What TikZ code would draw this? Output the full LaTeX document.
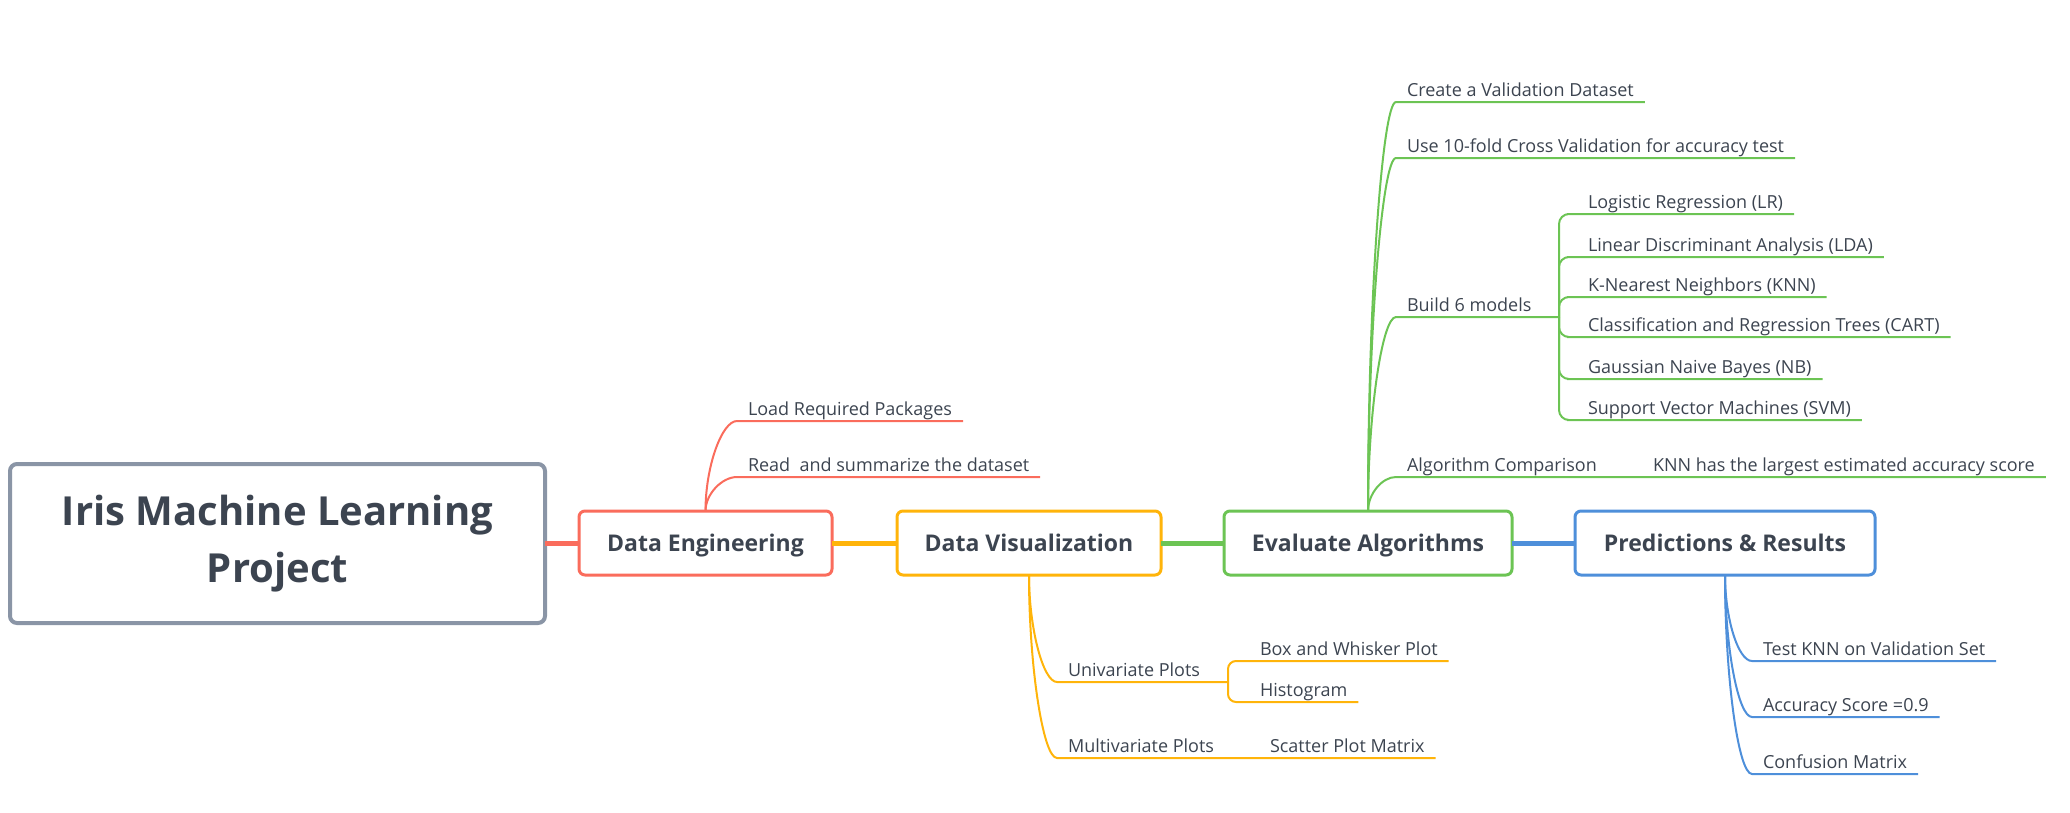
\documentclass[tikz,border=0pt]{standalone}
\usepackage{fontspec}
\setmainfont{Open Sans}
\usepackage{tikz}
\usepackage{xcolor}
\definecolor{engred}{RGB}{250,108,92}
\definecolor{visorange}{RGB}{255,180,10}
\definecolor{evalgreen}{RGB}{108,196,84}
\definecolor{predblue}{RGB}{78,143,218}
\definecolor{rootgray}{RGB}{138,149,166}
\definecolor{inkgray}{RGB}{60,68,80}

\begin{document}
\begin{tikzpicture}[x=1pt,y=-1pt,
  topic/.style={rectangle,rounded corners=6pt,draw=#1,line width=3pt,fill=white,text=inkgray,
                minimum height=64pt,text height=16.4pt,text depth=0pt,outer sep=0pt,
                font=\fontsize{23}{28}\selectfont\bfseries},
  leaf/.style={anchor=south west,inner xsep=11pt,inner ysep=2pt,text height=13pt,text depth=4pt,
               outer sep=0pt,text=inkgray,font=\fontsize{18}{22}\selectfont},
  link/.style={draw=#1,line width=5pt},
  branch/.style={draw=#1,line width=2pt}
]
\useasboundingbox (0,0) rectangle (2070,812);

% main line
\node[draw=rootgray,line width=4pt,rounded corners=7pt,fill=white,text=inkgray,align=center,
      minimum width=535pt,minimum height=159pt,outer sep=0pt,
      font=\fontsize{40}{57}\selectfont\bfseries] (root) at (277.5,543.5) {Iris Machine Learning\\Project};
\node[topic=engred,minimum width=253pt] (eng) at (705.5,543) {Data Engineering};
\node[topic=visorange,minimum width=264pt] (vis) at (1029,543) {Data Visualization};
\node[topic=evalgreen,minimum width=288pt] (eval) at (1368,543) {Evaluate Algorithms};
\node[topic=predblue,minimum width=300pt] (pred) at (1725,543) {Predictions \& Results};
\draw[link=engred] (root.east |- eng.west) -- (eng);
\draw[link=visorange] (eng) -- (vis);
\draw[link=evalgreen] (vis) -- (eval);
\draw[link=predblue] (eval) -- (pred);

% data engineering
\node[leaf] (load) at (737,421) {Load Required Packages};
\node[leaf] (read) at (737,477) {Read~ and summarize the dataset};
\draw[branch=engred] (eng.north) .. controls +(0,-45) and +(-15,0) .. (load.south west) -- (load.south east);
\draw[branch=engred] (eng.north) .. controls +(0,-17) and +(-15,0) .. (read.south west) -- (read.south east);

% data visualization
\node[leaf] (univ) at (1057,682) {Univariate Plots};
\node[leaf] (multi) at (1057,758) {Multivariate Plots};
\node[leaf] (boxw) at (1249,661) {Box and Whisker Plot};
\node[leaf] (hist) at (1249,702) {Histogram};
\node[leaf] (scat) at (1259,758) {Scatter Plot Matrix};
\coordinate (ufork) at (1228,682);
\draw[branch=visorange] (vis.south) .. controls +(0,53) and +(-14,0) .. (univ.south west) -- (ufork);
\draw[branch=visorange] (vis.south) .. controls +(0,91) and +(-14,0) .. (multi.south west) -- (scat.south west) -- (scat.south east);
\draw[branch=visorange,rounded corners=8pt] (ufork) |- (boxw.south west) -- (boxw.south east);
\draw[branch=visorange,rounded corners=8pt] (ufork) |- (hist.south west) -- (hist.south east);

% evaluate algorithms
\node[leaf] (valid) at (1396,102) {Create a Validation Dataset};
\node[leaf] (cross) at (1396,158) {Use 10-fold Cross Validation for accuracy test};
\node[leaf] (build) at (1396,317) {Build 6 models};
\node[leaf] (comp) at (1396,477) {Algorithm Comparison};
\node[leaf] (best) at (1642,477) {KNN has the largest estimated accuracy score};
\coordinate (mfork) at (1559,317);
\draw[branch=evalgreen] (eval.north) .. controls +(0,-205) and +(-14,0) .. (valid.south west) -- (valid.south east);
\draw[branch=evalgreen] (eval.north) .. controls +(0,-176) and +(-14,0) .. (cross.south west) -- (cross.south east);
\draw[branch=evalgreen] (eval.north) .. controls +(0,-97) and +(-14,0) .. (build.south west) -- (mfork);
\draw[branch=evalgreen] (eval.north) .. controls +(0,-17) and +(-14,0) .. (comp.south west) -- (best.south west) -- (best.south east);
\foreach \m/\y/\txt in {lr/214/Logistic Regression (LR),lda/257/Linear Discriminant Analysis (LDA),
    knn/297/K-Nearest Neighbors (KNN),cart/337/Classification and Regression Trees (CART),
    nb/379/Gaussian Naive Bayes (NB),svm/420/Support Vector Machines (SVM)}{
  \node[leaf] (\m) at (1577,\y) {\txt};
  \draw[branch=evalgreen,rounded corners=10pt] (mfork) |- (\m.south west) -- (\m.south east);
}

% predictions
\node[leaf] (test) at (1752,661) {Test KNN on Validation Set};
\node[leaf] (acc) at (1752,717) {Accuracy Score =0.9};
\node[leaf] (conf) at (1752,774) {Confusion Matrix};
\draw[branch=predblue] (pred.south) .. controls +(0,43) and +(-14,0) .. (test.south west) -- (test.south east);
\draw[branch=predblue] (pred.south) .. controls +(0,71) and +(-14,0) .. (acc.south west) -- (acc.south east);
\draw[branch=predblue] (pred.south) .. controls +(0,100) and +(-14,0) .. (conf.south west) -- (conf.south east);
\end{tikzpicture}
\end{document}
